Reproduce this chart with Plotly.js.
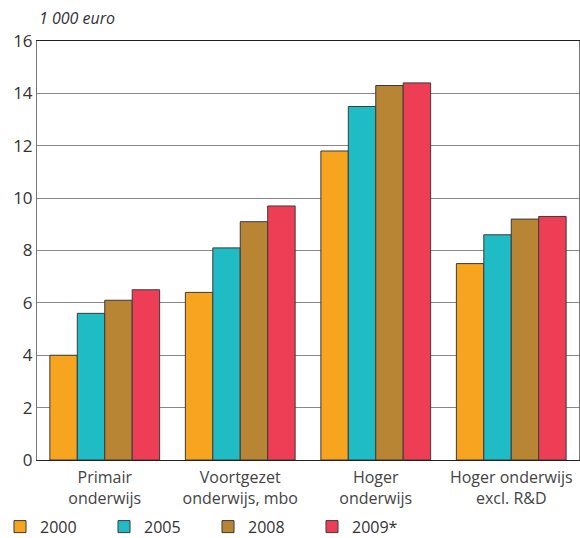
<!DOCTYPE html>
<html>
<head>
<meta charset="utf-8">
<script src="https://cdn.plot.ly/plotly-3.0.1.min.js"></script>
<style>html,body{margin:0;padding:0;background:#fff;}#chart{width:580px;height:538px;}</style>
</head>
<body>
<div id="chart"></div>
<script>
const categories = ["Primair<br>onderwijs", "Voortgezet<br>onderwijs, mbo", "Hoger<br>onderwijs", "Hoger onderwijs<br>excl. R&D"];
const seriesNames = ["2000", "2005", "2008", "2009*"];
const values2000 = [4.0, 6.4, 11.8, 7.5];
const values2005 = [5.6, 8.1, 13.5, 8.6];
const values2008 = [6.1, 9.1, 14.3, 9.2];
const values2009 = [6.5, 9.7, 14.4, 9.3];
const yTicks = [0, 2, 4, 6, 8, 10, 12, 14, 16];
const colors = ["#F7A51E", "#1FBCC6", "#B88535", "#EE3E55"];

const allValues = [values2000, values2005, values2008, values2009];
const FONT = "Open Sans, Noto Sans, sans-serif";

const traces = allValues.map((v, i) => ({
  type: "bar",
  name: seriesNames[i],
  x: categories,
  y: v,
  marker: {color: colors[i], line: {color: "#3a3a3a", width: 1}},
  hoverinfo: "x+y+name"
}));

const layout = {
  width: 580, height: 538,
  margin: {l: 37, r: 1, t: 41, b: 78},
  paper_bgcolor: "#fff", plot_bgcolor: "#fff",
  barmode: "group",
  bargap: 0.19,
  bargroupgap: 0,
  font: {family: FONT, size: 16, color: "#333"},
  xaxis: {
    type: "category",
    showgrid: false,
    zeroline: false,
    showline: true,
    linecolor: "#222",
    linewidth: 1,
    mirror: true,
    ticks: "",
    automargin: false,
    ticklabelstandoff: 3,
    tickfont: {family: FONT, size: 16, color: "#444"}
  },
  yaxis: {
    range: [0, 16],
    tickvals: yTicks,
    ticktext: yTicks.map(String),
    showgrid: true,
    gridcolor: "#888",
    gridwidth: 1,
    zeroline: false,
    showline: true,
    linecolor: "#777",
    linewidth: 1,
    mirror: true,
    ticks: "",
    ticklen: 0,
    automargin: false,
    tickfont: {family: FONT, size: 17, color: "#333"}
  },
  showlegend: true,
  legend: {
    orientation: "h",
    xref: "container", yref: "container",
    x: -0.035, xanchor: "left",
    y: 0.021, yanchor: "middle",
    valign: "middle",
    bgcolor: "rgba(0,0,0,0)",
    font: {family: FONT, size: 16, color: "#333"},
    entrywidth: 59,
    entrywidthmode: "pixels",
    traceorder: "normal"
  },
  annotations: [{
    text: "<i>1 000 euro</i>",
    xref: "paper", yref: "paper",
    x: 0, y: 1, xanchor: "left", yanchor: "bottom",
    yshift: 10,
    showarrow: false,
    font: {family: FONT, size: 16, color: "#333"}
  }]
};

Plotly.newPlot("chart", traces, layout, {displayModeBar: false, staticPlot: true});
</script>
</body>
</html>
